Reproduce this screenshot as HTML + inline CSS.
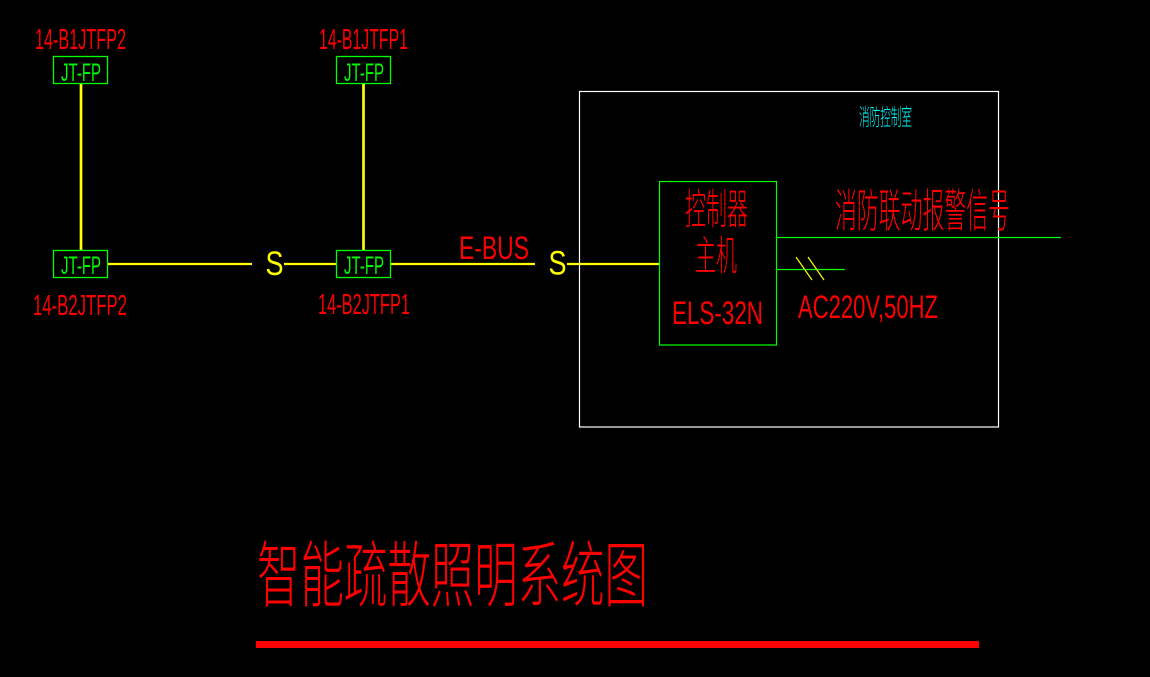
<!DOCTYPE html>
<html>
<head>
<meta charset="utf-8">
<style>
  html, body { margin:0; padding:0; background:#000; }
  body { width:1150px; height:677px; overflow:hidden; }
  svg { display:block; }
  .lat { font-family: "Liberation Sans", sans-serif; font-weight: normal; }
  .cjk { font-family: "Liberation Sans", "Noto Sans CJK SC", "WenQuanYi Zen Hei", sans-serif; font-weight: 300; }
</style>
</head>
<body>
<svg width="1150" height="677" viewBox="0 0 1150 677" xmlns="http://www.w3.org/2000/svg">
  <rect x="0" y="0" width="1150" height="677" fill="#000"/>

  <!-- Yellow bus lines -->
  <g stroke="#ffff00" stroke-width="2.7" fill="none">
    <line x1="81" y1="83" x2="81" y2="250"/>
    <line x1="363.5" y1="83" x2="363.5" y2="250"/>
  </g>
  <g stroke="#ffff00" stroke-width="2.2" fill="none">
    <line x1="107" y1="264" x2="252" y2="264"/>
    <line x1="284" y1="264" x2="336" y2="264"/>
    <line x1="390" y1="264" x2="535" y2="264"/>
    <line x1="567" y1="264" x2="659" y2="264"/>
  </g>

  <!-- S symbols -->
  <text class="lat" x="265.5" y="275" font-size="34" fill="#ffff00" textLength="18" lengthAdjust="spacingAndGlyphs">S</text>
  <text class="lat" x="548.5" y="274.5" font-size="34" fill="#ffff00" textLength="18" lengthAdjust="spacingAndGlyphs">S</text>

  <!-- JT-FP boxes -->
  <g stroke="#00ff00" stroke-width="1.3" fill="none">
    <rect x="53.5" y="56.5" width="54" height="27"/>
    <rect x="336.5" y="56.5" width="54" height="27"/>
    <rect x="53.5" y="250.5" width="54" height="27"/>
    <rect x="336.5" y="250.5" width="54" height="27"/>
  </g>
  <g fill="#00ff00" class="lat" font-size="25">
    <text x="61" y="81" textLength="40" lengthAdjust="spacingAndGlyphs">JT-FP</text>
    <text x="344" y="81" textLength="40" lengthAdjust="spacingAndGlyphs">JT-FP</text>
    <text x="61" y="274" textLength="40" lengthAdjust="spacingAndGlyphs">JT-FP</text>
    <text x="344" y="274" textLength="40" lengthAdjust="spacingAndGlyphs">JT-FP</text>
  </g>

  <!-- Red labels -->
  <g fill="#ff0000" class="lat" font-size="29">
    <text x="35" y="49" textLength="91" lengthAdjust="spacingAndGlyphs">14-B1JTFP2</text>
    <text x="319" y="49" textLength="89" lengthAdjust="spacingAndGlyphs">14-B1JTFP1</text>
    <text x="33" y="315" textLength="94" lengthAdjust="spacingAndGlyphs">14-B2JTFP2</text>
    <text x="318" y="314" textLength="92" lengthAdjust="spacingAndGlyphs">14-B2JTFP1</text>
  </g>
  <text class="lat" x="459" y="259" font-size="32" fill="#ff0000" textLength="70" lengthAdjust="spacingAndGlyphs">E-BUS</text>

  <!-- Fire control room box -->
  <rect x="579.5" y="91.5" width="419" height="335.5" fill="none" stroke="#ffffff" stroke-width="1.2"/>
  <text class="cjk" x="859" y="125" font-size="23" fill="#00ffff" textLength="53" lengthAdjust="spacingAndGlyphs">消防控制室</text>

  <!-- Controller box -->
  <rect x="659.5" y="181.5" width="117" height="163.5" fill="none" stroke="#00ff00" stroke-width="1.2"/>
  <text class="cjk" x="685" y="224" font-size="42" fill="#ff0000" textLength="63" lengthAdjust="spacingAndGlyphs">控制器</text>
  <text class="cjk" x="695" y="270" font-size="41" fill="#ff0000" textLength="42" lengthAdjust="spacingAndGlyphs">主机</text>
  <text class="lat" x="672" y="324" font-size="32" fill="#ff0000" textLength="91" lengthAdjust="spacingAndGlyphs">ELS-32N</text>

  <!-- Signal lines -->
  <g stroke="#00ff00" stroke-width="1.2" fill="none">
    <line x1="777" y1="237.5" x2="1061" y2="237.5"/>
    <line x1="777" y1="269.5" x2="845" y2="269.5"/>
  </g>
  <g stroke="#ffff00" stroke-width="1.2" fill="none">
    <line x1="796" y1="257" x2="812" y2="280"/>
    <line x1="808" y1="257" x2="824" y2="280"/>
  </g>
  <text class="cjk" x="835" y="227" font-size="46" fill="#ff0000" textLength="175" lengthAdjust="spacingAndGlyphs">消防联动报警信号</text>
  <text class="lat" x="798" y="318" font-size="32" fill="#ff0000" textLength="140" lengthAdjust="spacingAndGlyphs">AC220V,50HZ</text>

  <!-- Title -->
  <text class="cjk" x="257" y="601" font-size="72" fill="#ff0000" textLength="391" lengthAdjust="spacingAndGlyphs">智能疏散照明系统图</text>
  <rect x="256" y="641" width="723" height="7" fill="#ff0000"/>
</svg>
</body>
</html>
